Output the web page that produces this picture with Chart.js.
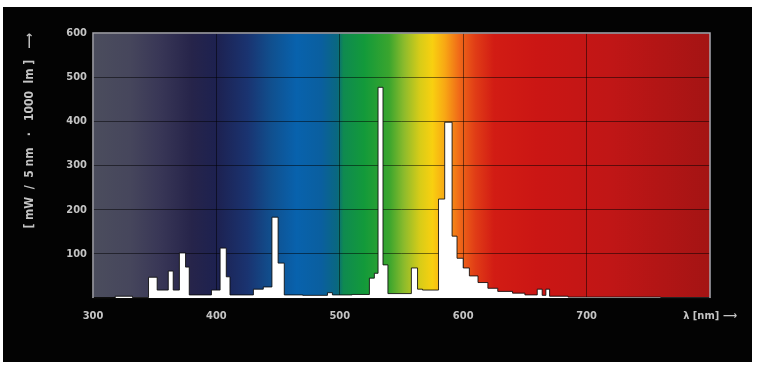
<!DOCTYPE html>
<html>
<head>
<meta charset="utf-8">
<script src="https://cdn.jsdelivr.net/npm/chart.js@4/dist/chart.umd.min.js"></script>
<style>
  html, body { margin: 0; padding: 0; background: #ffffff; }
  body { width: 759px; height: 366px; position: relative; overflow: hidden; }
  #frame { position: absolute; left: 3px; top: 7px; width: 749px; height: 355px; background: #030303; }
  canvas { display: block; }
</style>
</head>
<body>
<div id="frame"><canvas id="spd" width="749" height="355"></canvas></div>
<script>
// Spectral power distribution, step values starting at each wavelength (nm)
const wavelengths = [300, 318, 332, 345, 352, 361, 365, 370, 375, 378, 396, 403, 408, 411, 430, 438, 445, 450, 455, 470, 490, 494, 510, 524, 528, 531, 535, 539, 558, 563, 567, 580, 585, 591, 595, 600, 605, 612, 620, 628, 640, 650, 660, 664, 667, 670, 685, 760, 800];
const power =       [0,   4,   1,   47,  18,  61,  18,  102, 70,  7,   18,  113, 48,  7,   20,  25,  183, 79,  7,   6,   12,  7,   8,   45,  56,  477, 75,  10,  68,  20,  18,  224, 398, 140, 90,  68,  50,  35,  22,  15,  11,  7,   20,  6,   20,  4,   2,   1,   0];

const xTicks = [300, 400, 500, 600, 700, 800];
const xTickLabels = ['300', '400', '500', '600', '700', 'λ [nm] ⟶'];
const yTicks = [100, 200, 300, 400, 500, 600];

// Visible-spectrum colour stops used for the plot background
const bandNm =     [300, 330, 355, 380, 400, 425, 445, 465, 485, 498, 503, 520, 540, 552, 565, 575, 585, 597, 610, 625, 660, 720, 800];
const bandColour = ['#4b4d5d', '#46465c', '#383656', '#26244a', '#1d2150', '#1a3370', '#10508f', '#0862ad', '#0a5f9f', '#0a6880', '#0f8a50', '#139a3a', '#3aa52e', '#8cbb2c', '#d8cc18', '#f8d010', '#f8a814', '#f06818', '#e03c16', '#d21c14', '#cb1614', '#c01616', '#a41414'];

const points = wavelengths.map((w, i) => ({ x: w, y: power[i] }));
const labelFont = { family: "'Liberation Sans Narrow', 'DejaVu Sans Condensed', sans-serif", size: 11, weight: 'bold' };
const titleFont = { family: "'Liberation Sans Narrow', 'DejaVu Sans Condensed', sans-serif", size: 12, weight: 'bold' };
const textColour = '#c4c4c4';

const spectrumBackground = {
  id: 'spectrumBackground',
  beforeDraw(chart) {
    const { ctx, chartArea: a, scales: { x } } = chart;
    const g = ctx.createLinearGradient(a.left, 0, a.right, 0);
    bandNm.forEach((nm, i) => {
      const t = (x.getPixelForValue(nm) - a.left) / (a.right - a.left);
      g.addColorStop(Math.min(1, Math.max(0, t)), bandColour[i]);
    });
    ctx.save();
    ctx.fillStyle = g;
    ctx.fillRect(a.left, a.top, a.right - a.left, a.bottom - a.top);
    ctx.restore();
  },
  afterDraw(chart) {
    const { ctx, chartArea: a } = chart;
    ctx.save();
    ctx.strokeStyle = '#a8a8b0';
    ctx.lineWidth = 1.5;
    ctx.beginPath();
    ctx.moveTo(a.left, a.bottom);
    ctx.lineTo(a.left, a.top);
    ctx.lineTo(a.right, a.top);
    ctx.lineTo(a.right, a.bottom);
    ctx.stroke();
    ctx.restore();
  }
};

new Chart(document.getElementById('spd'), {
  type: 'line',
  data: {
    datasets: [{
      data: points,
      stepped: 'before',
      fill: 'origin',
      backgroundColor: '#ffffff',
      borderColor: 'rgba(10,10,10,0.85)',
      borderWidth: 1,
      pointRadius: 0,
      tension: 0
    }]
  },
  options: {
    responsive: false,
    animation: false,
    layout: { padding: { left: 20, right: 42, top: 26, bottom: 30 } },
    plugins: { legend: { display: false }, tooltip: { enabled: false } },
    scales: {
      x: {
        type: 'linear',
        min: 300,
        max: 800,
        afterFit(s) { s.height = 34; },
        afterBuildTicks(s) { s.ticks = xTicks.map(v => ({ value: v })); },
        ticks: {
          color: textColour,
          font: labelFont,
          padding: 12,
          maxRotation: 0,
          callback: (v) => xTickLabels[xTicks.indexOf(v)]
        },
        grid: { color: 'rgba(0,0,0,0.5)', lineWidth: 1, drawTicks: false },
        border: { color: '#111', width: 1.5 }
      },
      y: {
        type: 'linear',
        min: 0,
        max: 600,
        afterFit(s) { s.width = 70; },
        afterBuildTicks(s) { s.ticks = [0].concat(yTicks).map(v => ({ value: v })); },
        ticks: {
          color: textColour,
          font: labelFont,
          padding: 6,
          callback: (v) => (v === 0 ? '' : String(v))
        },
        grid: { color: 'rgba(0,0,0,0.5)', lineWidth: 1, drawTicks: false },
        border: { display: false },
        title: {
          display: true,
          text: '[ mW  /  5 nm   ·   1000  lm ]   ⟶',
          align: 'end',
          color: textColour,
          font: titleFont,
          padding: { top: 0, bottom: 0 }
        }
      }
    }
  },
  plugins: [spectrumBackground]
});
</script>
</body>
</html>
